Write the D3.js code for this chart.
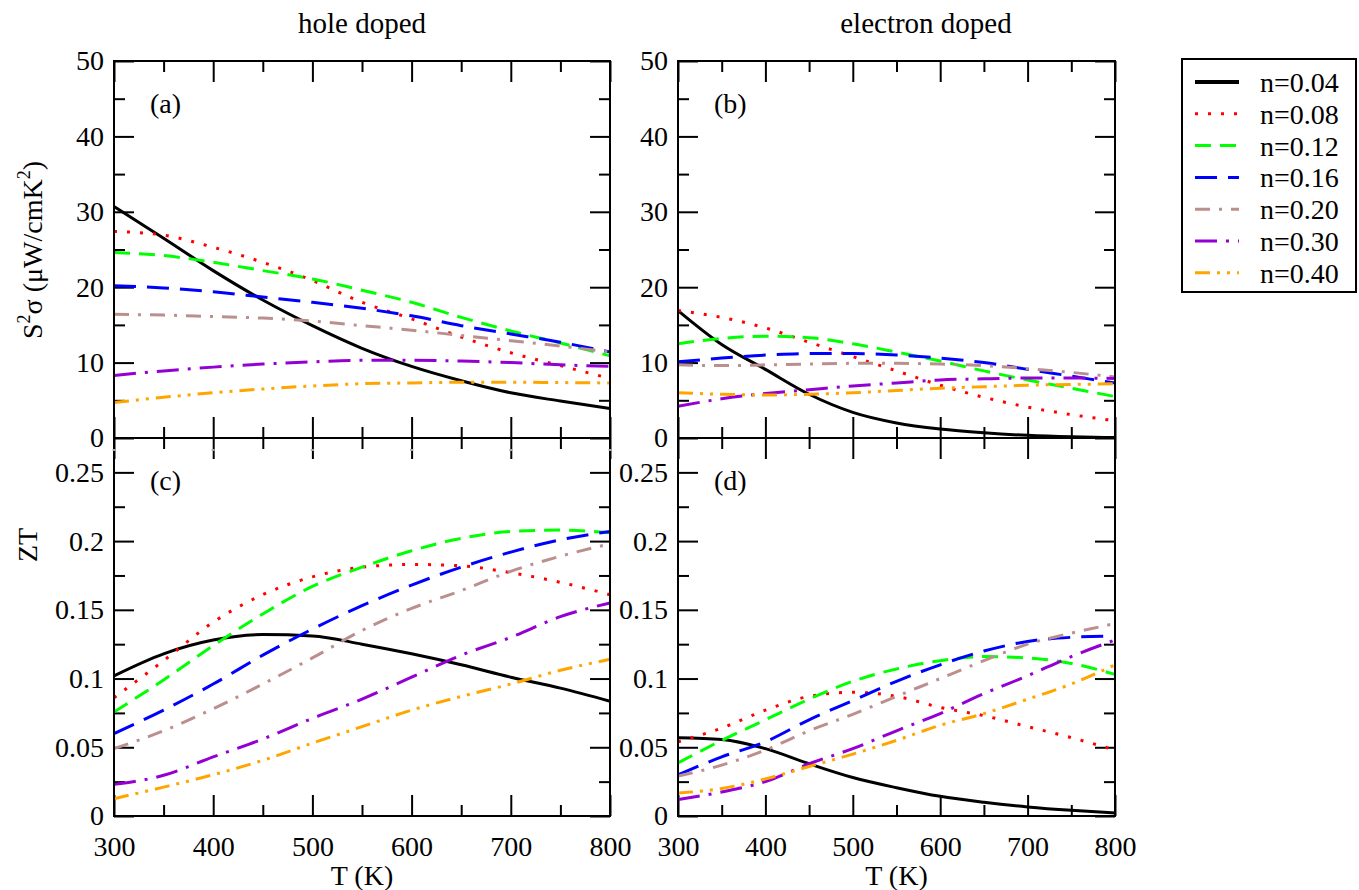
<html>
<head>
<meta charset="UTF-8">
<script src="https://d3js.org/d3.v7.min.js"></script>
</head>
<body style="margin:0">
<svg id="chart" width="1359" height="890"></svg>
<script>
// temperature grid (K)
const temps = [300, 350, 400, 450, 500, 550, 600, 650, 700, 750, 800];
const labels = ["n=0.04", "n=0.08", "n=0.12", "n=0.16", "n=0.20", "n=0.30", "n=0.40"];
const colors = ["#000000", "#ff0000", "#00ff00", "#0000ff", "#bc8f8f", "#9400d3", "#ffa500"];
const dashes = [null, "3,10", "16,9", "22,11", "15,9,3,9", "22,9,3,9", "15,7,3,7,3,7"];

// S^2 sigma (uW/cmK^2), hole doped
const pfHole = [
  [30.7, 26.5, 22.2, 18.3, 14.9, 11.9, 9.5, 7.6, 6.0, 4.9, 3.9],
  [27.4, 26.9, 25.3, 23.3, 20.9, 18.0, 15.8, 13.4, 11.3, 9.6, 7.9],
  [24.6, 24.2, 23.3, 22.2, 21.1, 19.6, 18.0, 16.0, 14.2, 12.6, 10.9],
  [20.2, 19.9, 19.4, 18.7, 18.0, 17.2, 16.2, 14.9, 13.8, 12.7, 11.4],
  [16.4, 16.3, 16.1, 15.9, 15.5, 14.9, 14.3, 13.6, 12.9, 12.2, 11.4],
  [8.3, 8.9, 9.4, 9.8, 10.1, 10.3, 10.3, 10.2, 10.0, 9.7, 9.5],
  [4.7, 5.4, 6.0, 6.5, 6.9, 7.2, 7.3, 7.4, 7.4, 7.35, 7.3]
];
// S^2 sigma, electron doped
const pfElec = [
  [16.9, 12.4, 9.1, 5.8, 3.4, 2.0, 1.2, 0.7, 0.35, 0.15, 0.05],
  [16.9, 16.0, 14.6, 12.7, 10.8, 8.9, 7.0, 5.4, 4.1, 3.1, 2.3],
  [12.5, 13.2, 13.5, 13.3, 12.5, 11.4, 10.2, 8.9, 7.7, 6.6, 5.5],
  [10.1, 10.6, 11.0, 11.2, 11.2, 11.0, 10.6, 10.0, 9.1, 8.2, 7.3],
  [9.7, 9.6, 9.7, 9.8, 9.9, 9.9, 9.8, 9.6, 9.2, 8.7, 8.1],
  [4.2, 5.2, 5.9, 6.4, 6.9, 7.3, 7.7, 7.85, 7.95, 7.95, 7.9],
  [6.0, 5.8, 5.7, 5.8, 6.0, 6.3, 6.6, 6.8, 7.0, 7.1, 7.2]
];
// ZT, hole doped
const ztHole = [
  [0.102, 0.118, 0.128, 0.132, 0.131, 0.125, 0.118, 0.110, 0.101, 0.093, 0.0835],
  [0.086, 0.113, 0.141, 0.161, 0.174, 0.181, 0.183, 0.182, 0.177, 0.170, 0.161],
  [0.0757, 0.099, 0.124, 0.147, 0.167, 0.181, 0.193, 0.202, 0.207, 0.208, 0.206],
  [0.060, 0.077, 0.096, 0.117, 0.136, 0.153, 0.168, 0.181, 0.192, 0.201, 0.207],
  [0.049, 0.062, 0.078, 0.096, 0.115, 0.135, 0.151, 0.164, 0.178, 0.189, 0.198],
  [0.023, 0.0296, 0.043, 0.056, 0.071, 0.085, 0.101, 0.117, 0.130, 0.145, 0.155],
  [0.0126, 0.021, 0.030, 0.0405, 0.053, 0.065, 0.077, 0.087, 0.096, 0.106, 0.114]
];
// ZT, electron doped
const ztElec = [
  [0.057, 0.0556, 0.049, 0.038, 0.028, 0.0206, 0.0143, 0.010, 0.0066, 0.0041, 0.0022],
  [0.054, 0.064, 0.077, 0.087, 0.090, 0.087, 0.079, 0.073, 0.065, 0.057, 0.048],
  [0.0386, 0.055, 0.070, 0.085, 0.098, 0.107, 0.113, 0.116, 0.115, 0.111, 0.103],
  [0.030, 0.043, 0.054, 0.070, 0.084, 0.098, 0.110, 0.120, 0.127, 0.130, 0.131],
  [0.029, 0.037, 0.048, 0.062, 0.074, 0.087, 0.100, 0.113, 0.125, 0.133, 0.140],
  [0.012, 0.0175, 0.025, 0.038, 0.049, 0.062, 0.0745, 0.089, 0.102, 0.116, 0.128],
  [0.0167, 0.020, 0.027, 0.036, 0.045, 0.055, 0.066, 0.0745, 0.085, 0.096, 0.110]
];

const svg = d3.select("#chart");
const font = "Liberation Serif";

function serif(sel, size) {
  return sel.attr("font-family", font).attr("font-size", size);
}

const cols = [[114, 610], [678, 1115]];
const rows = [[61, 438], [438, 816]];

const pfTicks = [0, 10, 20, 30, 40, 50];
const ztTicks = [0, 0.05, 0.1, 0.15, 0.2, 0.25];

function panel(ci, ri, data, letter) {
  const [x0, x1] = cols[ci];
  const [y0, y1] = rows[ri];
  const x = d3.scaleLinear().domain([300, 800]).range([x0, x1]);
  const y = ri === 0
    ? d3.scaleLinear().domain([0, 50]).range([y1, y0])
    : d3.scaleLinear().domain([0, 0.275]).range([y1, y0]);
  const major = ri === 0 ? pfTicks : ztTicks;
  const minor = ri === 0 ? d3.range(5, 50, 10) : d3.range(0.025, 0.275, 0.05);
  const xMajor = [300, 400, 500, 600, 700, 800];
  const xMinor = d3.range(350, 800, 100);
  const g = svg.append("g");

  // major / minor ticks on all four sides, pointing inward
  const axes = [
    [`translate(${x0},0)`, d3.axisLeft(y).tickValues(major).tickSize(-20).tickPadding(10)
      .tickFormat(d => ri === 0 ? d : d3.format("~g")(d))],
    [`translate(${x0},0)`, d3.axisLeft(y).tickValues(minor).tickSize(-11).tickFormat("")],
    [`translate(${x1},0)`, d3.axisRight(y).tickValues(major).tickSize(-20).tickFormat("")],
    [`translate(${x1},0)`, d3.axisRight(y).tickValues(minor).tickSize(-11).tickFormat("")],
    [`translate(0,${y1})`, d3.axisBottom(x).tickValues(xMajor).tickSize(-21).tickPadding(20)
      .tickFormat(ri === 1 ? d => d : "")],
    [`translate(0,${y1})`, d3.axisBottom(x).tickValues(xMinor).tickSize(-11).tickFormat("")],
    [`translate(0,${y0})`, d3.axisTop(x).tickValues(xMajor).tickSize(-21).tickFormat("")],
    [`translate(0,${y0})`, d3.axisTop(x).tickValues(xMinor).tickSize(-11).tickFormat("")]
  ];
  axes.forEach(([tr, ax]) => {
    const a = g.append("g").attr("transform", tr).call(ax);
    a.attr("font-family", font).attr("font-size", 28);
    a.select(".domain").remove();
    a.selectAll(".tick line").attr("stroke", "#000").attr("stroke-width", 2);
  });

  const line = d3.line()
    .x((d, i) => x(temps[i]))
    .y(d => y(d))
    .curve(d3.curveMonotoneX);

  data.forEach((s, k) => {
    g.append("path")
      .attr("d", line(s))
      .attr("fill", "none")
      .attr("stroke", colors[k])
      .attr("stroke-width", 3)
      .attr("stroke-dasharray", dashes[k]);
  });

  g.append("rect")
    .attr("x", x0).attr("y", y0).attr("width", x1 - x0).attr("height", y1 - y0)
    .attr("fill", "none").attr("stroke", "#000").attr("stroke-width", 2);

  serif(g.append("text"), 28)
    .attr("x", x0 + 36).attr("y", y0 + 52)
    .text(letter);

  if (ri === 1) {
    serif(g.append("text"), 28)
      .attr("x", (x0 + x1) / 2).attr("y", 885)
      .attr("text-anchor", "middle")
      .text("T (K)");
  }
}

panel(0, 0, pfHole, "(a)");
panel(1, 0, pfElec, "(b)");
panel(0, 1, ztHole, "(c)");
panel(1, 1, ztElec, "(d)");

// faint grey marks under the shared axis
const xs = d3.scaleLinear().domain([300, 800]).range(cols[0]);
[300, 400, 500, 600, 700, 800].forEach(t => {
  svg.append("rect").attr("x", xs(t) - 1.5).attr("y", 449).attr("width", 3).attr("height", 2).attr("fill", "#aaa");
});

// column titles
serif(svg.append("text"), 29).attr("x", 362).attr("y", 33).attr("text-anchor", "middle").text("hole doped");
serif(svg.append("text"), 29).attr("x", 926).attr("y", 33).attr("text-anchor", "middle").text("electron doped");

// y axis titles
const yl = serif(svg.append("text"), 28)
  .attr("transform", "translate(42,250) rotate(-90)")
  .attr("text-anchor", "middle");
yl.append("tspan").text("S");
yl.append("tspan").attr("font-size", 18).attr("dy", -12).text("2");
yl.append("tspan").attr("dy", 12).text("σ (μW/cmK");
yl.append("tspan").attr("font-size", 18).attr("dy", -12).text("2");
yl.append("tspan").attr("dy", 12).text(")");

serif(svg.append("text"), 28)
  .attr("transform", "translate(37,545) rotate(-90)")
  .attr("text-anchor", "middle")
  .text("ZT");

// legend
const leg = svg.append("g");
leg.append("rect").attr("x", 1182).attr("y", 59).attr("width", 174).attr("height", 233)
  .attr("fill", "#fff").attr("stroke", "#000").attr("stroke-width", 2);
labels.forEach((lab, k) => {
  const cy = 82 + k * 31.8;
  leg.append("line")
    .attr("x1", 1195).attr("x2", 1239).attr("y1", cy).attr("y2", cy)
    .attr("stroke", colors[k]).attr("stroke-width", k === 0 ? 4 : 3)
    .attr("stroke-dasharray", dashes[k]);
  serif(leg.append("text"), 28)
    .attr("x", 1260).attr("y", cy + 10)
    .text(lab);
});
</script>
</body>
</html>
